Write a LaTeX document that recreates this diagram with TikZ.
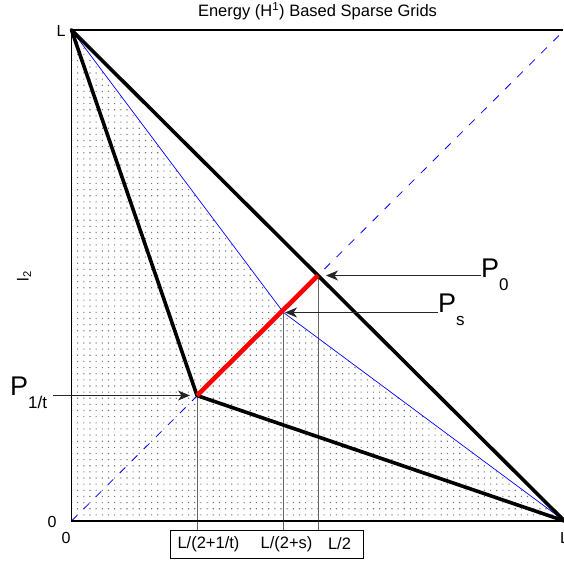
\documentclass[tikz,border=0pt]{standalone}
\usepackage{fontspec}
\setmainfont{Liberation Sans}
\usetikzlibrary{arrows.meta}
\newcommand{\Plab}[1]{{\fontsize{27}{27}\selectfont P}\raisebox{-13pt}{\fontsize{17}{17}\selectfont #1}}
\tikzset{
  thickblk/.style={line width=3.6pt, line cap=round, line join=round},
  bluethin/.style={blue, line width=0.7pt},
  bluedash/.style={blue, line width=0.8pt, dash pattern=on 8pt off 9pt},
  guide/.style={black!60, line width=0.8pt},
  pointer/.style={black!85, line width=0.8pt, -{Stealth[length=12pt,width=10pt,inset=3.5pt]}},
  ticklab/.style={font=\fontsize{16}{16}\selectfont, inner sep=0pt},
  boxlab/.style={font=\fontsize{16.5}{16.5}\selectfont, inner sep=0pt},
  plab/.style={inner sep=0pt, anchor=base west}
}
\begin{document}
\begin{tikzpicture}[x=1pt,y=-1pt]
\useasboundingbox (0,0) rectangle (563,565);
\coordinate (O) at (71.5,521);
\coordinate (T) at (71.5,30);
\coordinate (R) at (564.5,521);
\coordinate (TR) at (564.5,30);
\coordinate (P0) at (318,275.5);
\coordinate (Ps) at (283.5,312.5);
\coordinate (Pt) at (197,395.5);
% dots
\begin{scope}
\clip (O) -- (T) -- (Ps) -- (R) -- cycle;
\fill[black!55] foreach \i in {0,...,80}{ foreach \j in {0,...,80}{
   (71.5+\i*6.1625-0.55, 521-\j*6.1375-0.55) rectangle +(1.1,1.1) } };
\end{scope}
% dashed diagonal
\begin{scope}
\clip (O) rectangle (TR);
\draw[bluedash] (O) -- (TR);
\end{scope}
% label box
\node[draw, line width=0.8pt, minimum width=193pt, minimum height=28pt, inner sep=0pt] (box) at (266.5,544) {};
\node[boxlab] (lt) at (208.5,544) {L/(2+1/t)};
\node[boxlab] (ls) at (286.5,544) {L/(2+s)};
\node[boxlab] (l2) at (339.5,544) {L/2};
% guides
\draw[guide] (Pt) -- (Pt |- box.north);
\draw[guide] (Ps) -- (Ps |- box.north);
\draw[guide] (P0) -- (P0 |- box.north);
% blue line
\draw[bluethin] (T) -- (Ps) -- (R);
% thick lines
\draw[thickblk] (T) -- (R);
\draw[thickblk] (T) -- (Pt) -- (R);
\draw[red, line width=4.6pt] (Pt) -- (P0);
% frame
\draw[line width=1.6pt] (563,30) -- (T) -- (O) -- (R);
% tick labels
\node[ticklab] (tL) at (61,31) {L};
\node[ticklab] (t0l) at (52,522) {0};
\node[ticklab] (t0b) at (66,537.5) {0};
\node[ticklab] (tLb) at (564.5,537.5) {L};
\node[rotate=90, font=\fontsize{16}{16}\selectfont, inner sep=0pt] (yl) at (24,276) {l\textsubscript{2}};
\node[font=\fontsize{16.5}{16.5}\selectfont, inner sep=0pt] (title) at (317.5,11) {Energy (H\textsuperscript{1}) Based Sparse Grids};
% P labels
\node[plab] (lab0) at (481,277) {\Plab{0}};
\node[plab] (labs) at (438,312) {\Plab{s}};
\node[plab] (labt) at (10,395) {\Plab{1/t}};
\draw[pointer, shorten >=8pt] (P0 -| lab0.west) -- (P0);
\draw[pointer, shorten >=1.5pt] (Ps -| labs.west) -- (Ps);
\draw[pointer, shorten >=7pt] ([xshift=6pt]Pt -| labt.east) -- (Pt);
\end{tikzpicture}
\end{document}
